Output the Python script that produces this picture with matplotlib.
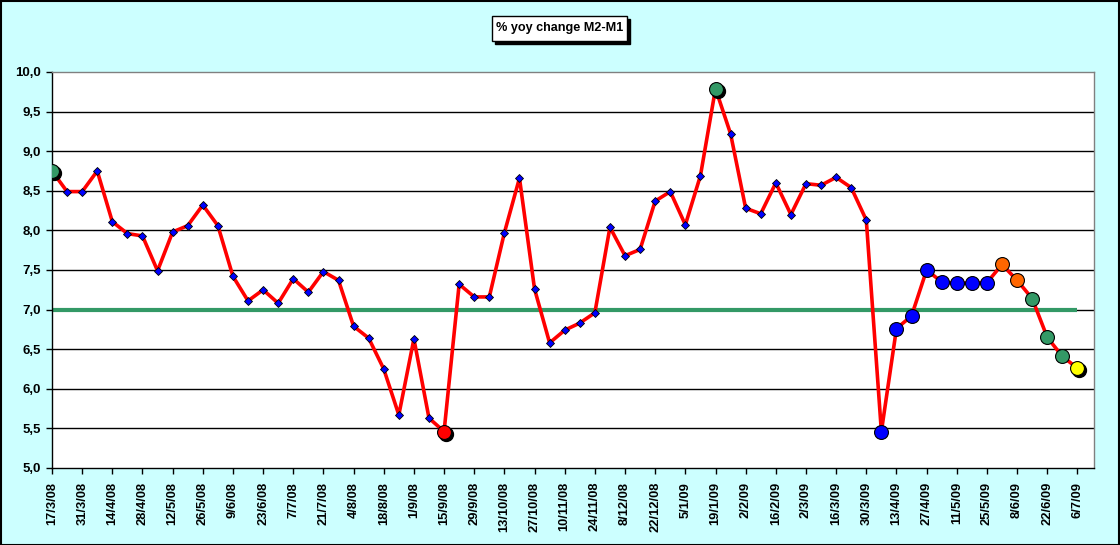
import matplotlib
matplotlib.use("Agg")
import matplotlib.pyplot as plt
from matplotlib.patches import Rectangle
from matplotlib.transforms import offset_copy
from matplotlib.ticker import FuncFormatter

plt.rcParams["font.family"] = ["Liberation Sans", "DejaVu Sans"]

TICK_LABELS = [
    "17/3/08", "31/3/08", "14/4/08", "28/4/08", "12/5/08", "26/5/08", "9/6/08",
    "23/6/08", "7/7/08", "21/7/08", "4/8/08", "18/8/08", "1/9/08", "15/9/08",
    "29/9/08", "13/10/08", "27/10/08", "10/11/08", "24/11/08", "8/12/08",
    "22/12/08", "5/1/09", "19/1/09", "2/2/09", "16/2/09", "2/3/09", "16/3/09",
    "30/3/09", "13/4/09", "27/4/09", "11/5/09", "25/5/09", "8/6/09", "22/6/09",
    "6/7/09",
]

# weekly values, 17/3/08 .. 6/7/09
yoy = [
    8.75, 8.49, 8.49, 8.75, 8.11, 7.96, 7.93, 7.49, 7.98, 8.06,
    8.32, 8.06, 7.42, 7.11, 7.25, 7.08, 7.39, 7.22, 7.48, 7.37,
    6.79, 6.64, 6.25, 5.67, 6.63, 5.63, 5.46, 7.32, 7.16, 7.16,
    7.97, 8.66, 7.26, 6.58, 6.74, 6.83, 6.96, 8.04, 7.68, 7.76,
    8.37, 8.49, 8.07, 8.69, 9.79, 9.22, 8.28, 8.21, 8.60, 8.20,
    8.59, 8.57, 8.67, 8.54, 8.13, 5.46, 6.76, 6.92, 7.50, 7.35,
    7.33, 7.34, 7.34, 7.57, 7.37, 7.14, 6.65, 6.41, 6.26,
]
target = 7.0

# highlighted points: index -> colour
big_points = {
    0: "#339966", 26: "#ff0000", 44: "#339966",
    55: "#0000ff", 56: "#0000ff", 57: "#0000ff", 58: "#0000ff", 59: "#0000ff",
    60: "#0000ff", 61: "#0000ff", 62: "#0000ff",
    63: "#ff6600", 64: "#ff6600",
    65: "#339966", 66: "#339966", 67: "#339966",
    68: "#ffff00",
}
shadowed = [0, 26, 44, 68]

W, H = 1120, 545
fig = plt.figure(figsize=(W / 100, H / 100), dpi=100, facecolor="#ccffff")
ax = fig.add_axes([52 / W, 1 - 468 / H, (1094 - 52) / W, 396 / H])
ax.set_facecolor("white")

x = list(range(len(yoy)))

for v in [5.5, 6.0, 6.5, 7.0, 7.5, 8.0, 8.5, 9.0, 9.5]:
    ax.axhline(v, color="black", lw=1, zorder=1)

ax.plot([0, len(yoy) - 1], [target, target], color="#339966", lw=3, zorder=2,
        solid_capstyle="butt")
ax.plot(x, yoy, color="#ff0000", lw=2.6, zorder=3)

small = [i for i in x if i not in big_points]
ax.plot(small, [yoy[i] for i in small], ls="none", marker="D", ms=4.5,
        mfc="#0000ff", mec="black", mew=0.6, zorder=4)

shadow_tr = offset_copy(ax.transData, fig=fig, x=2, y=-2, units="dots")
ax.plot(shadowed, [yoy[i] for i in shadowed], ls="none", marker="o", ms=10,
        mfc="black", mec="black", transform=shadow_tr, zorder=5)
for i, c in big_points.items():
    ax.plot(i, yoy[i], ls="none", marker="o", ms=10, mfc=c, mec="black",
            mew=0.8, zorder=6)

ax.set_xlim(0, 69.1)
ax.set_ylim(5, 10)
ax.set_yticks([5 + 0.5 * k for k in range(11)])
ax.yaxis.set_major_formatter(FuncFormatter(lambda v, p: f"{v:.1f}".replace(".", ",")))
ax.set_xticks(range(0, len(yoy), 2))
ax.set_xticklabels(TICK_LABELS, rotation=90)

for lab in ax.get_yticklabels():
    lab.set_fontweight("bold")
    lab.set_fontsize(9.5)
for lab in ax.get_xticklabels():
    lab.set_fontweight("bold")
    lab.set_fontsize(9.3)
ax.tick_params(axis="both", direction="out", length=4, width=1, color="black")
ax.tick_params(axis="x", pad=6)
ax.tick_params(axis="y", pad=4)

ax.spines["left"].set_color("black")
ax.spines["bottom"].set_color("black")
ax.spines["top"].set_color("#808080")
ax.spines["right"].set_color("#808080")
for s in ax.spines.values():
    s.set_linewidth(1)

# title box with shadow
bx0, by0, bw, bh = 492, 16, 135, 25
fig.add_artist(Rectangle(((bx0 + 3) / W, 1 - (by0 + bh + 3) / H), bw / W, bh / H,
                         transform=fig.transFigure, facecolor="black", edgecolor="black"))
fig.add_artist(Rectangle((bx0 / W, 1 - (by0 + bh) / H), bw / W, bh / H,
                         transform=fig.transFigure, facecolor="white", edgecolor="black", lw=1))
fig.text((bx0 + bw / 2) / W, 1 - (by0 + bh / 2) / H, "% yoy change M2-M1",
         ha="center", va="center", fontsize=9.1, fontweight="bold")

fig.add_artist(Rectangle((0.5 / W, 0.5 / H), (W - 1.5) / W, (H - 1.5) / H,
                         transform=fig.transFigure, facecolor="none",
                         edgecolor="black", lw=1.5))

fig.savefig("out.png", dpi=100, facecolor=fig.get_facecolor())
